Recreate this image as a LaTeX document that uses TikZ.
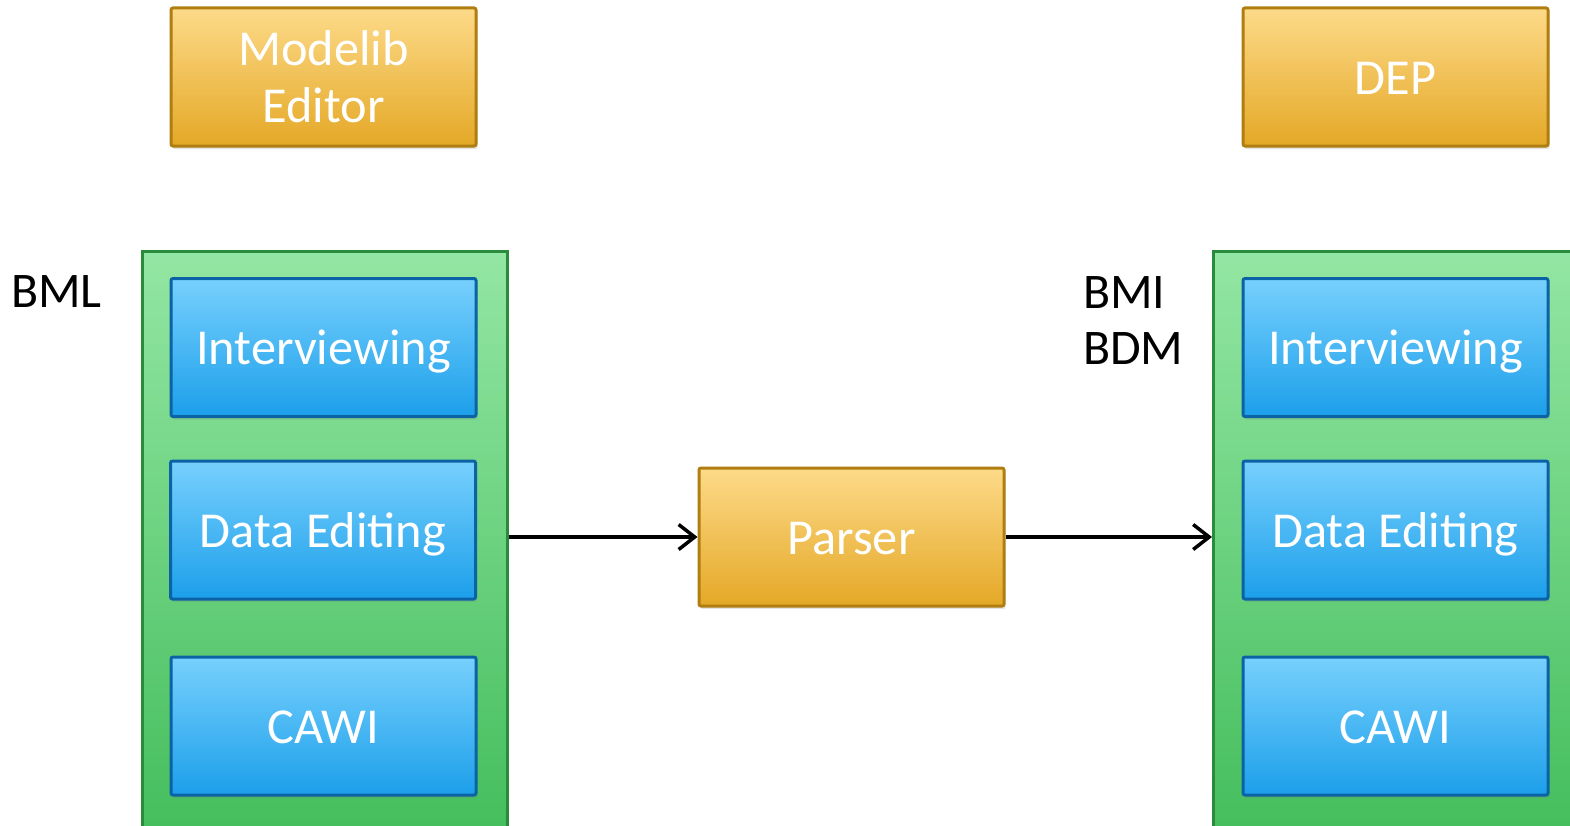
\documentclass[tikz,border=0pt]{standalone}
\usepackage{fontspec}
\setmainfont{Carlito}
\usetikzlibrary{arrows.meta,shadows}
\definecolor{goldtop}{HTML}{FDDA89}
\definecolor{goldbot}{HTML}{E4A826}
\definecolor{goldline}{HTML}{B07E10}
\definecolor{bluetop}{HTML}{77D0FD}
\definecolor{bluebot}{HTML}{1C9FEA}
\definecolor{blueline}{HTML}{0B63A6}
\definecolor{greentop}{HTML}{93E6A3}
\definecolor{greenbot}{HTML}{3FBB58}
\definecolor{greenline}{HTML}{2A8C3A}
\tikzset{
  box/.style={rectangle, rounded corners=2bp, minimum width=305bp, minimum height=138bp,
    inner sep=0pt, text=white, font=\fontsize{50.5}{57}\selectfont,
    text height=34.5bp, text depth=0pt,
    drop shadow={shadow xshift=1.5bp, shadow yshift=-3bp, opacity=0.22}},
  goldbox/.style={box, draw=goldline, line width=3bp, top color=goldtop, bottom color=goldbot},
  bluebox/.style={box, draw=blueline, line width=3bp, top color=bluetop, bottom color=bluebot},
  container/.style={rectangle, draw=greenline, line width=2.5bp, top color=greentop, bottom color=greenbot,
    inner sep=0pt, minimum height=620bp},
  label/.style={font=\fontsize{50}{57}\selectfont, text=black, align=left, inner sep=0pt},
  arr/.style={-{Straight Barb[length=16bp,width=25bp,line width=3.5bp]}, line width=3.5bp, black}
}
\begin{document}
\begin{tikzpicture}[x=1bp,y=-1bp]
\useasboundingbox (0,0) rectangle (1570,825);
\clip (0,0) rectangle (1570,825);
% top boxes
\node[goldbox, align=center, text height=, text depth=] (modelib) at (323.5,77) {Modelib\\Editor};
\node[goldbox] (dep) at (1395.5,77) {DEP};
% containers
\node[container, minimum width=365bp, anchor=north west] (leftc) at (141,250) {};
\node[container, minimum width=400bp, anchor=north west] (rightc) at (1212,250) {};
% left inner boxes
\node[bluebox] (lint) at (323.5,347.5) {Interviewing};
\node[bluebox] (ldata) at (323,530) {Data Editing};
\node[bluebox] (lcawi) at (323.5,726) {CAWI};
% right inner boxes
\node[bluebox] (rint) at (1395.5,347.5) {Interviewing};
\node[bluebox] (rdata) at (1395.5,530) {Data Editing};
\node[bluebox] (rcawi) at (1395.5,726) {CAWI};
% parser
\node[goldbox] (parser) at (851.5,537) {Parser};
% labels
\node[label, anchor=west] (bml) at (11,292) {BML};
\node[label, anchor=north west] (bmi) at (1083,276) {BMI\\BDM};
% arrows
\draw[arr] (parser.west -| leftc.east) -- (parser.west);
\draw[arr] (parser.east) -- (parser.east -| rightc.west);
\end{tikzpicture}
\end{document}
